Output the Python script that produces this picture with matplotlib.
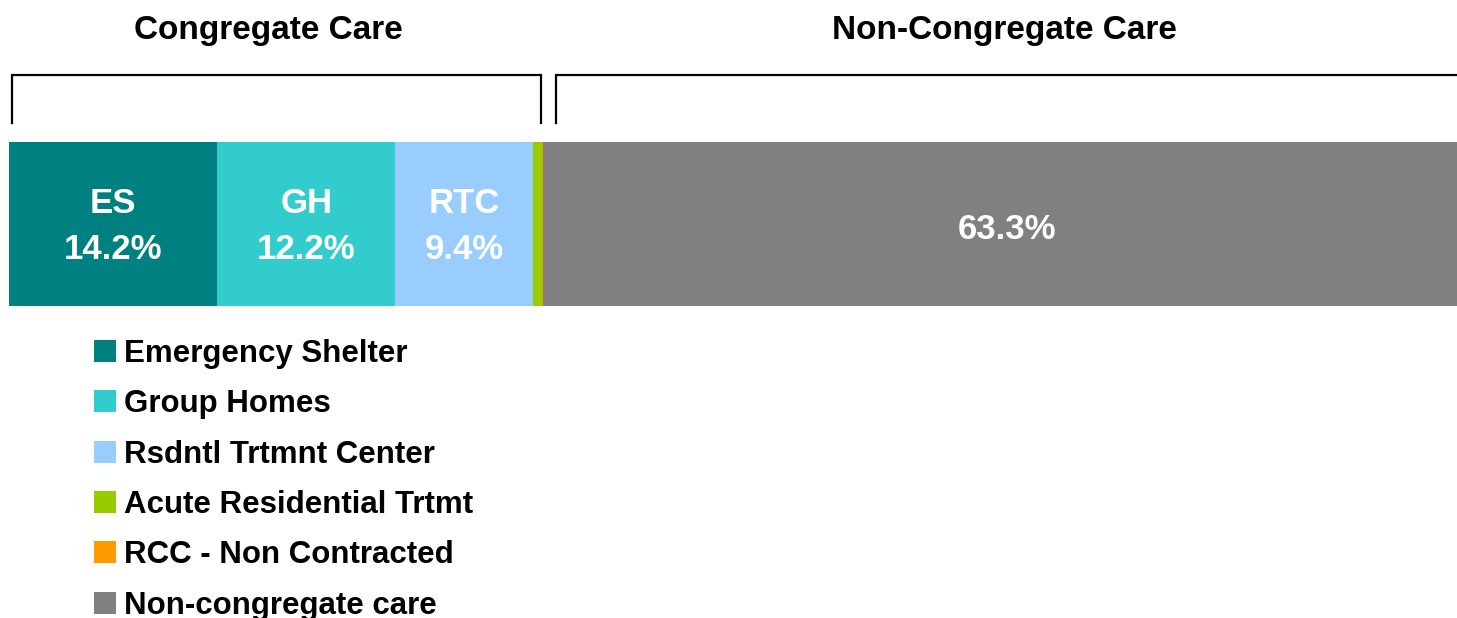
import matplotlib
matplotlib.use("Agg")
import matplotlib.pyplot as plt
from matplotlib.lines import Line2D

plt.rcParams['font.family'] = ['Liberation Sans', 'DejaVu Sans']
plt.rcParams['font.weight'] = 'bold'

categories = ["Emergency Shelter", "Group Homes", "Rsdntl Trtmnt Center",
              "Acute Residential Trtmt", "RCC - Non Contracted", "Non-congregate care"]
short_labels = ["ES", "GH", "RTC", "", "", ""]
values = [14.2, 12.2, 9.4, 0.6, 0.1, 63.3]
colors = ["#008080", "#33CCCC", "#99CCFF", "#99CC00", "#FF9900", "#808080"]
group_titles = ["Congregate Care", "Non-Congregate Care"]

W, H = 1457, 618
fig = plt.figure(figsize=(W / 100, H / 100), dpi=100)

px_per_pct = 14.64
total = sum(values)
ax = fig.add_axes([9 / W, 1 - 306 / H, total * px_per_pct / W, 164 / H])
left = 0
handles = []
for cat, lab, v, c in zip(categories, short_labels, values, colors):
    b = ax.barh(0, v, left=left, height=1.0, color=c, edgecolor='none', label=cat)
    handles.append(b)
    cx = left + v / 2
    if v >= 5:
        if lab:
            ax.text(cx, -0.018, f"{lab}\n{v:.1f}%", ha='center', va='center', color='white',
                    fontsize=25, fontweight='bold', linespacing=1.5)
        else:
            ax.text(cx, -0.036, f"{v:.1f}%", ha='center', va='center', color='white',
                    fontsize=25, fontweight='bold')
    left += v
ax.set_xlim(0, total)
ax.set_ylim(-0.5, 0.5)
ax.axis('off')

# group brackets (figure pixel coords)
def bracket(x0, x1):
    y_top = 1 - 75 / H
    y_bot = 1 - 123 / H
    xs = [x0 / W, x0 / W, x1 / W, x1 / W]
    ys = [y_bot, y_top, y_top, y_bot]
    fig.add_artist(Line2D(xs, ys, color='black', lw=1.6, transform=fig.transFigure,
                          solid_joinstyle='miter'))

bracket(12, 541)
bracket(556, 1470)

fig.text(268 / W, 1 - 31 / H, group_titles[0], ha='center', va='center',
         fontsize=24, fontweight='bold', color='black')
fig.text(1004 / W, 1 - 31 / H, group_titles[1], ha='center', va='center',
         fontsize=24, fontweight='bold', color='black')

leg = fig.legend(handles=handles, labels=categories, loc='upper left',
                 bbox_to_anchor=(94 / W, 1 - 339 / H), frameon=False,
                 fontsize=22.5, handlelength=0.7, handleheight=0.7,
                 handletextpad=0.26, labelspacing=0.65, borderpad=0, borderaxespad=0)
for t in leg.get_texts():
    t.set_fontweight('bold')

fig.savefig("out.png", dpi=100)
